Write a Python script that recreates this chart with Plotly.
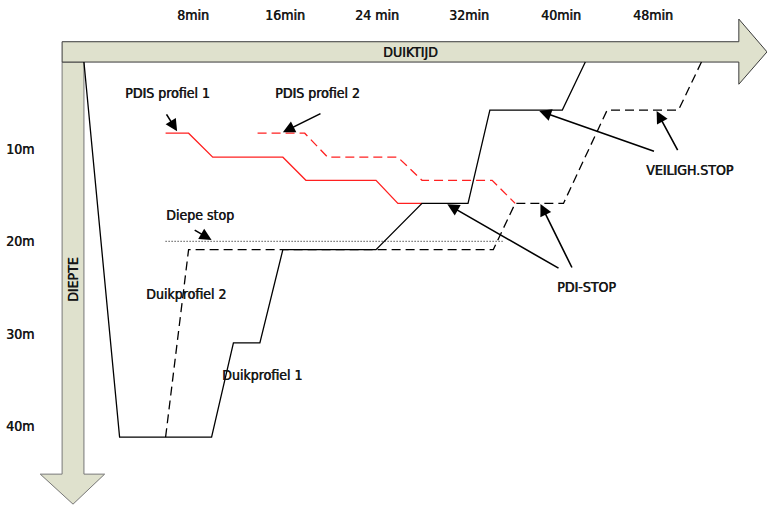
import plotly.graph_objs as go

# time axis (minutes) and depth axis (metres)
time_ticks = [8, 16, 24, 32, 40, 48]
time_labels = ['8min', '16min', '24 min', '32min', '40min', '48min']
depth_ticks = [10, 20, 30, 40]
depth_labels = ['10m', '20m', '30m', '40m']

# dive profiles
dive1_t = [-1.5, 1.6, 9.6, 11.5, 13.8, 15.8, 23.9, 27.9, 31.9, 33.8, 40.1, 42.1]
dive1_d = [0.6, 41.2, 41.2, 31.0, 31.0, 20.9, 20.9, 15.9, 15.9, 5.8, 5.8, 0.6]

dive2_t = [5.6, 7.6, 34.1, 36.0, 40.2, 44.0, 50.2, 52.2]
dive2_d = [41.2, 20.9, 20.9, 15.9, 15.9, 5.8, 5.8, 0.6]

pdis1_t = [5.6, 7.6, 9.7, 15.8, 17.8, 23.9, 25.8, 27.9]
pdis1_d = [8.3, 8.3, 10.9, 10.9, 13.4, 13.4, 15.9, 15.9]

pdis2_t = [13.6, 17.7, 19.7, 25.8, 27.9, 34.0, 36.0]
pdis2_d = [8.3, 8.3, 10.9, 10.9, 13.4, 13.4, 15.9]

deep_stop_t = [5.6, 34.9]
deep_stop_d = [20.0, 20.0]

# labels: text, time, depth
labels = [
    ('PDIS profiel 1', 5.8, 3.95),
    ('PDIS profiel 2', 18.8, 3.95),
    ('Diepe stop', 8.6, 17.15),
    ('Duikprofiel 2', 7.4, 25.7),
    ('Duikprofiel 1', 14.0, 34.5),
    ('PDI-STOP', 42.2, 24.95),
    ('VEILIGH.STOP', 51.2, 12.3),
]

# pointer arrows: tail (t, d) -> head (t, d)
pointers = [
    ((5.6, 6.1), (6.6, 8.1)),
    ((19.2, 6.1), (15.8, 8.2)),
    ((8.0, 18.7), (9.6, 19.85)),
    ((39.9, 23.0), (30.1, 16.0)),
    ((41.0, 23.0), (38.2, 15.95)),
    ((48.2, 10.3), (38.1, 5.9)),
    ((50.2, 10.3), (48.3, 5.9)),
]

font = 'DejaVu Sans Condensed, sans-serif'
txt_font = dict(family=font, size=14, color='#151515',
                shadow='0.6px 0px 0px #151515')
fill = '#dfe1cd'

fig = go.Figure()

fig.add_trace(go.Scatter(x=deep_stop_t, y=deep_stop_d, mode='lines',
                         line=dict(color='#333333', width=1.3, dash='1px,2px')))
fig.add_trace(go.Scatter(x=pdis1_t, y=pdis1_d, mode='lines',
                         line=dict(color='#ff2020', width=1.3)))
fig.add_trace(go.Scatter(x=pdis2_t, y=pdis2_d, mode='lines',
                         line=dict(color='#ff2020', width=1.3, dash='9px,5px')))
fig.add_trace(go.Scatter(x=dive2_t, y=dive2_d, mode='lines',
                         line=dict(color='black', width=1.3, dash='9px,5px')))
fig.add_trace(go.Scatter(x=dive1_t, y=dive1_d, mode='lines',
                         line=dict(color='black', width=1.3)))

# big axis arrows (depth arrow first so the time arrow sits on top)
fig.add_shape(type='path', xref='x', yref='y', layer='below',
              path='M -3.4,0.6 L -1.5,0.6 L -1.5,45.2 L 0.3,45.2 L -2.45,48.45 '
                   'L -5.3,45.2 L -3.4,45.2 Z',
              fillcolor=fill, line=dict(color='#777777', width=1))
fig.add_shape(type='path', xref='x', yref='y', layer='below',
              path='M -3.4,-1.6 L 55.45,-1.6 L 55.45,-4.05 L 57.9,-0.5 L 55.45,3.0 '
                   'L 55.45,0.6 L -3.4,0.6 Z',
              fillcolor=fill, line=dict(color='#3a3a3a', width=1))

for t, txt in zip(time_ticks, time_labels):
    fig.add_annotation(x=t, y=-4.5, text=txt, showarrow=False, font=txt_font)
for d, txt in zip(depth_ticks, depth_labels):
    fig.add_annotation(x=-7.05, y=d, text=txt, showarrow=False, font=txt_font)

fig.add_annotation(x=24.3, y=-0.5, text='DUIKTIJD', showarrow=False, xanchor='left',
                   font=txt_font)
fig.add_annotation(x=-2.45, y=24.2, text='DIEPTE', showarrow=False, textangle=-90,
                   font=txt_font)

for txt, t, d in labels:
    fig.add_annotation(x=t, y=d, text=txt, showarrow=False, font=txt_font)

for (t0, d0), (t1, d1) in pointers:
    fig.add_annotation(x=t1, y=d1, ax=t0, ay=d0, axref='x', ayref='y', xref='x', yref='y',
                       text='', showarrow=True, arrowhead=2, arrowsize=1.5,
                       arrowwidth=1.6, arrowcolor='black')

fig.update_layout(
    width=767, height=505,
    margin=dict(l=0, r=0, t=0, b=0),
    plot_bgcolor='white', paper_bgcolor='white',
    showlegend=False,
    xaxis=dict(range=[-8.8, 57.9], visible=False),
    yaxis=dict(range=[48.54, -6.115], visible=False),
)

fig.write_html('out.html', config={'displayModeBar': False},
               post_script="document.body.style.margin='0';")
